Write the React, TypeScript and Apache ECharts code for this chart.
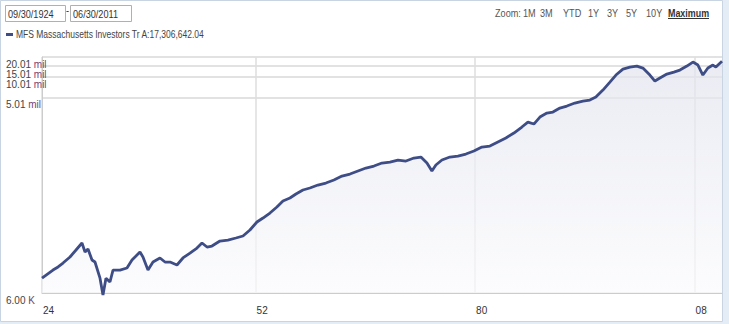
import React, { useEffect, useRef } from "react";
import * as echarts from "echarts";

// Time (decimal years) and fund value (USD, growth of $10,000)
const years: number[] = [
  1924.75, 1926.15, 1926.8, 1927.43, 1928.32, 1929.09, 1929.85, 1930.24, 1930.62, 1931.13,
  1931.51, 1932.15, 1932.53, 1932.91, 1933.42, 1933.81, 1934.7, 1935.59, 1936.23, 1937.25,
  1937.63, 1938.27, 1938.91, 1939.8, 1940.44, 1941.08, 1941.97, 1942.73, 1943.63, 1944.52,
  1945.16, 1945.8, 1946.43, 1947.45, 1948.47, 1949.49, 1950.39, 1951.28, 1952.17, 1952.94,
  1953.83, 1954.72, 1955.49, 1956.38, 1957.15, 1958.04, 1958.93, 1959.95, 1960.97, 1961.99,
  1963.02, 1964.04, 1965.06, 1966.08, 1967.1, 1968.12, 1969.14, 1970.16, 1971.18, 1972.2,
  1973.09, 1973.86, 1974.49, 1975.0, 1975.77, 1976.79, 1977.81, 1978.83, 1979.85, 1980.87,
  1981.89, 1982.91, 1983.93, 1984.95, 1985.97, 1986.74, 1987.5, 1988.27, 1989.16, 1989.93,
  1990.82, 1991.71, 1992.73, 1993.75, 1994.64, 1995.41, 1996.31, 1997.2, 1997.97, 1998.86,
  1999.75, 2000.64, 2001.41, 2002.3, 2002.94, 2003.58, 2004.47, 2005.36, 2006.13, 2007.02,
  2007.79, 2008.43, 2009.06, 2009.7, 2010.34, 2010.72, 2011.5,
];
const values: number[] = [
  10000, 13200, 14700, 16800, 20700, 26300, 33450, 24550, 27200, 18650,
  17400, 10000, 5600, 10000, 8750, 13200, 13200, 14170, 18650, 24550,
  20700, 13200, 17400, 20000, 17400, 17400, 15700, 20000, 23700, 28170,
  33450, 29160, 30170, 35800, 37080, 39730, 42560, 52300, 68800, 79000,
  93800, 115300, 141600, 157100, 180300, 206800, 221500, 245500, 263000, 291600,
  334500, 358400, 397300, 440400, 471700, 523000, 541300, 579800, 560100, 621000,
  642600, 523000, 397300, 488300, 579800, 642600, 665400, 712600, 789700, 906500,
  938000, 1076000, 1234800, 1466000, 1802000, 2139600, 1998000, 2541000, 2916000, 3018000,
  3463000, 3709000, 4111000, 4403000, 4557600, 5052600, 6427800, 8460000, 10762000, 13224000,
  14166000, 14664000, 13690000, 10762000, 8757000, 9708000, 11139000, 11930000, 12780000, 14664000,
  16824000, 15174000, 10762000, 13690000, 15174000, 14166000, 17306642.04,
];

const seriesName = "MFS Massachusetts Investors Tr A";
const lastValue = "17,306,642.04";
const startDate = "09/30/1924";
const endDate = "06/30/2011";
const yTicks: number[] = [6000, 5010000, 10010000, 20010000];
const yTicksExtra: number[] = [15010000];
const xTicks: number[] = [1924.75, 1952, 1980, 2008];
const zoomButtons: string[] = ["Zoom:", "1M", "3M", "YTD", "1Y", "3Y", "5Y", "10Y"];
const zoomButtonX: number[] = [495, 523, 540, 563, 588, 607, 626, 646];

const FONT = "'Liberation Sans', Arial, sans-serif";
const SX = 0.83;
const Y_MIN = 6000;
const Y_MAX = 20020000;

const yLabelFormatter = (v: number) => {
  if (v >= 1e6) return `{n|${(v / 1e6).toFixed(2)}} {u|mil}`;
  return `{n|${(v / 1e3).toFixed(2)}} {u|K}`;
};
const yLabelRich = {
  n: { color: "#444444", fontSize: 10, lineHeight: 10, fontFamily: FONT },
  u: { color: "#7a3f72", fontSize: 10, lineHeight: 10, fontFamily: FONT },
};

function makeYAxis(ticks: number[], primary: boolean): any {
  return {
    type: "log",
    logBase: 10,
    min: Y_MIN,
    max: Y_MAX,
    position: "left",
    axisLine: { show: primary, lineStyle: { color: "#cccccc", width: 1 } },
    axisTick: { show: false, customValues: ticks },
    splitLine: { show: true, lineStyle: { color: "#d9d9d9", width: 1.5 } },
    axisLabel: {
      customValues: ticks,
      showMaxLabel: true,
      showMinLabel: true,
      hideOverlap: false,
      align: "left",
      verticalAlign: "top",
      margin: 36,
      fontSize: 10,
      lineHeight: 10,
      fontFamily: FONT,
      padding: primary ? [2, 0, 0, 0] : [4, 0, 0, 0],
      formatter: yLabelFormatter,
      rich: yLabelRich,
    },
  };
}

export default function App() {
  const ref = useRef<HTMLDivElement>(null);
  useEffect(() => {
    if (!ref.current) return;
    const chart = echarts.init(ref.current, null, { renderer: "svg" });
    const data = years.map((y, i) => [y, values[i]]);
    const graphics: any[] = [
      {
        type: "rect",
        z: -10,
        silent: true,
        shape: { x: 0.5, y: 0.5, width: 722, height: 321 },
        style: { fill: "#ffffff", stroke: "#c9d4e2", lineWidth: 1 },
      },
      {
        type: "rect",
        shape: { x: 5.5, y: 5.5, width: 60, height: 16 },
        style: { fill: "#ffffff", stroke: "#b0b0b0", lineWidth: 1 },
      },
      {
        type: "text",
        x: 8,
        y: 14,
        scaleX: SX,
        style: { text: startDate, fill: "#333333", font: `11px ${FONT}`, verticalAlign: "middle" },
      },
      {
        type: "text",
        x: 66,
        y: 10,
        scaleX: SX,
        style: { text: "-", fill: "#333333", font: `11px ${FONT}`, verticalAlign: "middle" },
      },
      {
        type: "rect",
        shape: { x: 70.5, y: 5.5, width: 61, height: 16 },
        style: { fill: "#ffffff", stroke: "#b0b0b0", lineWidth: 1 },
      },
      {
        type: "text",
        x: 73,
        y: 14,
        scaleX: SX,
        style: { text: endDate, fill: "#333333", font: `11px ${FONT}`, verticalAlign: "middle" },
      },
      {
        type: "rect",
        shape: { x: 6, y: 33, width: 7, height: 3 },
        style: { fill: "#3e4d86" },
      },
      {
        type: "text",
        x: 16,
        y: 35,
        scaleX: 0.85,
        style: {
          text: `${seriesName}:${lastValue}`,
          fill: "#444444",
          font: `10px ${FONT}`,
          verticalAlign: "middle",
        },
      },
      ...zoomButtons.map((b, i) => ({
        type: "text",
        x: zoomButtonX[i],
        y: 13,
        scaleX: SX,
        style: { text: b, fill: "#555555", font: `11px ${FONT}`, verticalAlign: "middle" },
      })),
      {
        type: "text",
        x: 668,
        y: 13,
        scaleX: 0.81,
        style: {
          text: "Maximum",
          fill: "#333333",
          font: `bold 11px ${FONT}`,
          verticalAlign: "middle",
        },
      },
      {
        type: "line",
        shape: { x1: 668, y1: 18.5, x2: 709, y2: 18.5 },
        style: { stroke: "#333333", lineWidth: 1 },
      },
    ];

    chart.setOption({
      animation: false,
      backgroundColor: "transparent",
      textStyle: { fontFamily: FONT },
      grid: { left: 42, right: 7, top: 57, bottom: 31, containLabel: false },
      graphic: graphics,
      xAxis: {
        type: "value",
        min: 1924.75,
        max: 2011.5,
        axisLine: { show: true, lineStyle: { color: "#cccccc", width: 1 } },
        axisTick: { show: false, customValues: xTicks },
        splitLine: { show: true, lineStyle: { color: "#dedede", width: 1.5 } },
        axisLabel: {
          customValues: xTicks,
          hideOverlap: false,
          formatter: (v: number) => String(Math.floor(v) % 100).padStart(2, "0"),
          align: "left",
          verticalAlign: "top",
          margin: 12,
          color: "#333333",
          fontSize: 10,
          fontFamily: FONT,
          padding: [0, 0, 0, 1],
        },
      },
      yAxis: [makeYAxis(yTicks, true), makeYAxis(yTicksExtra, false)],
      series: [
        {
          name: seriesName,
          type: "line",
          data,
          yAxisIndex: 0,
          showSymbol: false,
          clip: false,
          lineStyle: { color: "#3e4d86", width: 2.8 },
          areaStyle: {
            origin: "start",
            color: new echarts.graphic.LinearGradient(0, 0, 0, 1, [
              { offset: 0, color: "#e2e4ee" },
              { offset: 1, color: "#fbfbfd" },
            ]),
          },
        },
      ],
    });
    return () => chart.dispose();
  }, []);
  return (
    <div
      style={{
        position: "absolute",
        left: 0,
        top: 0,
        width: 729,
        height: 324,
        background: "#e4ecf6",
      }}
    >
      <div ref={ref} style={{ width: 729, height: 324 }} />
    </div>
  );
}
